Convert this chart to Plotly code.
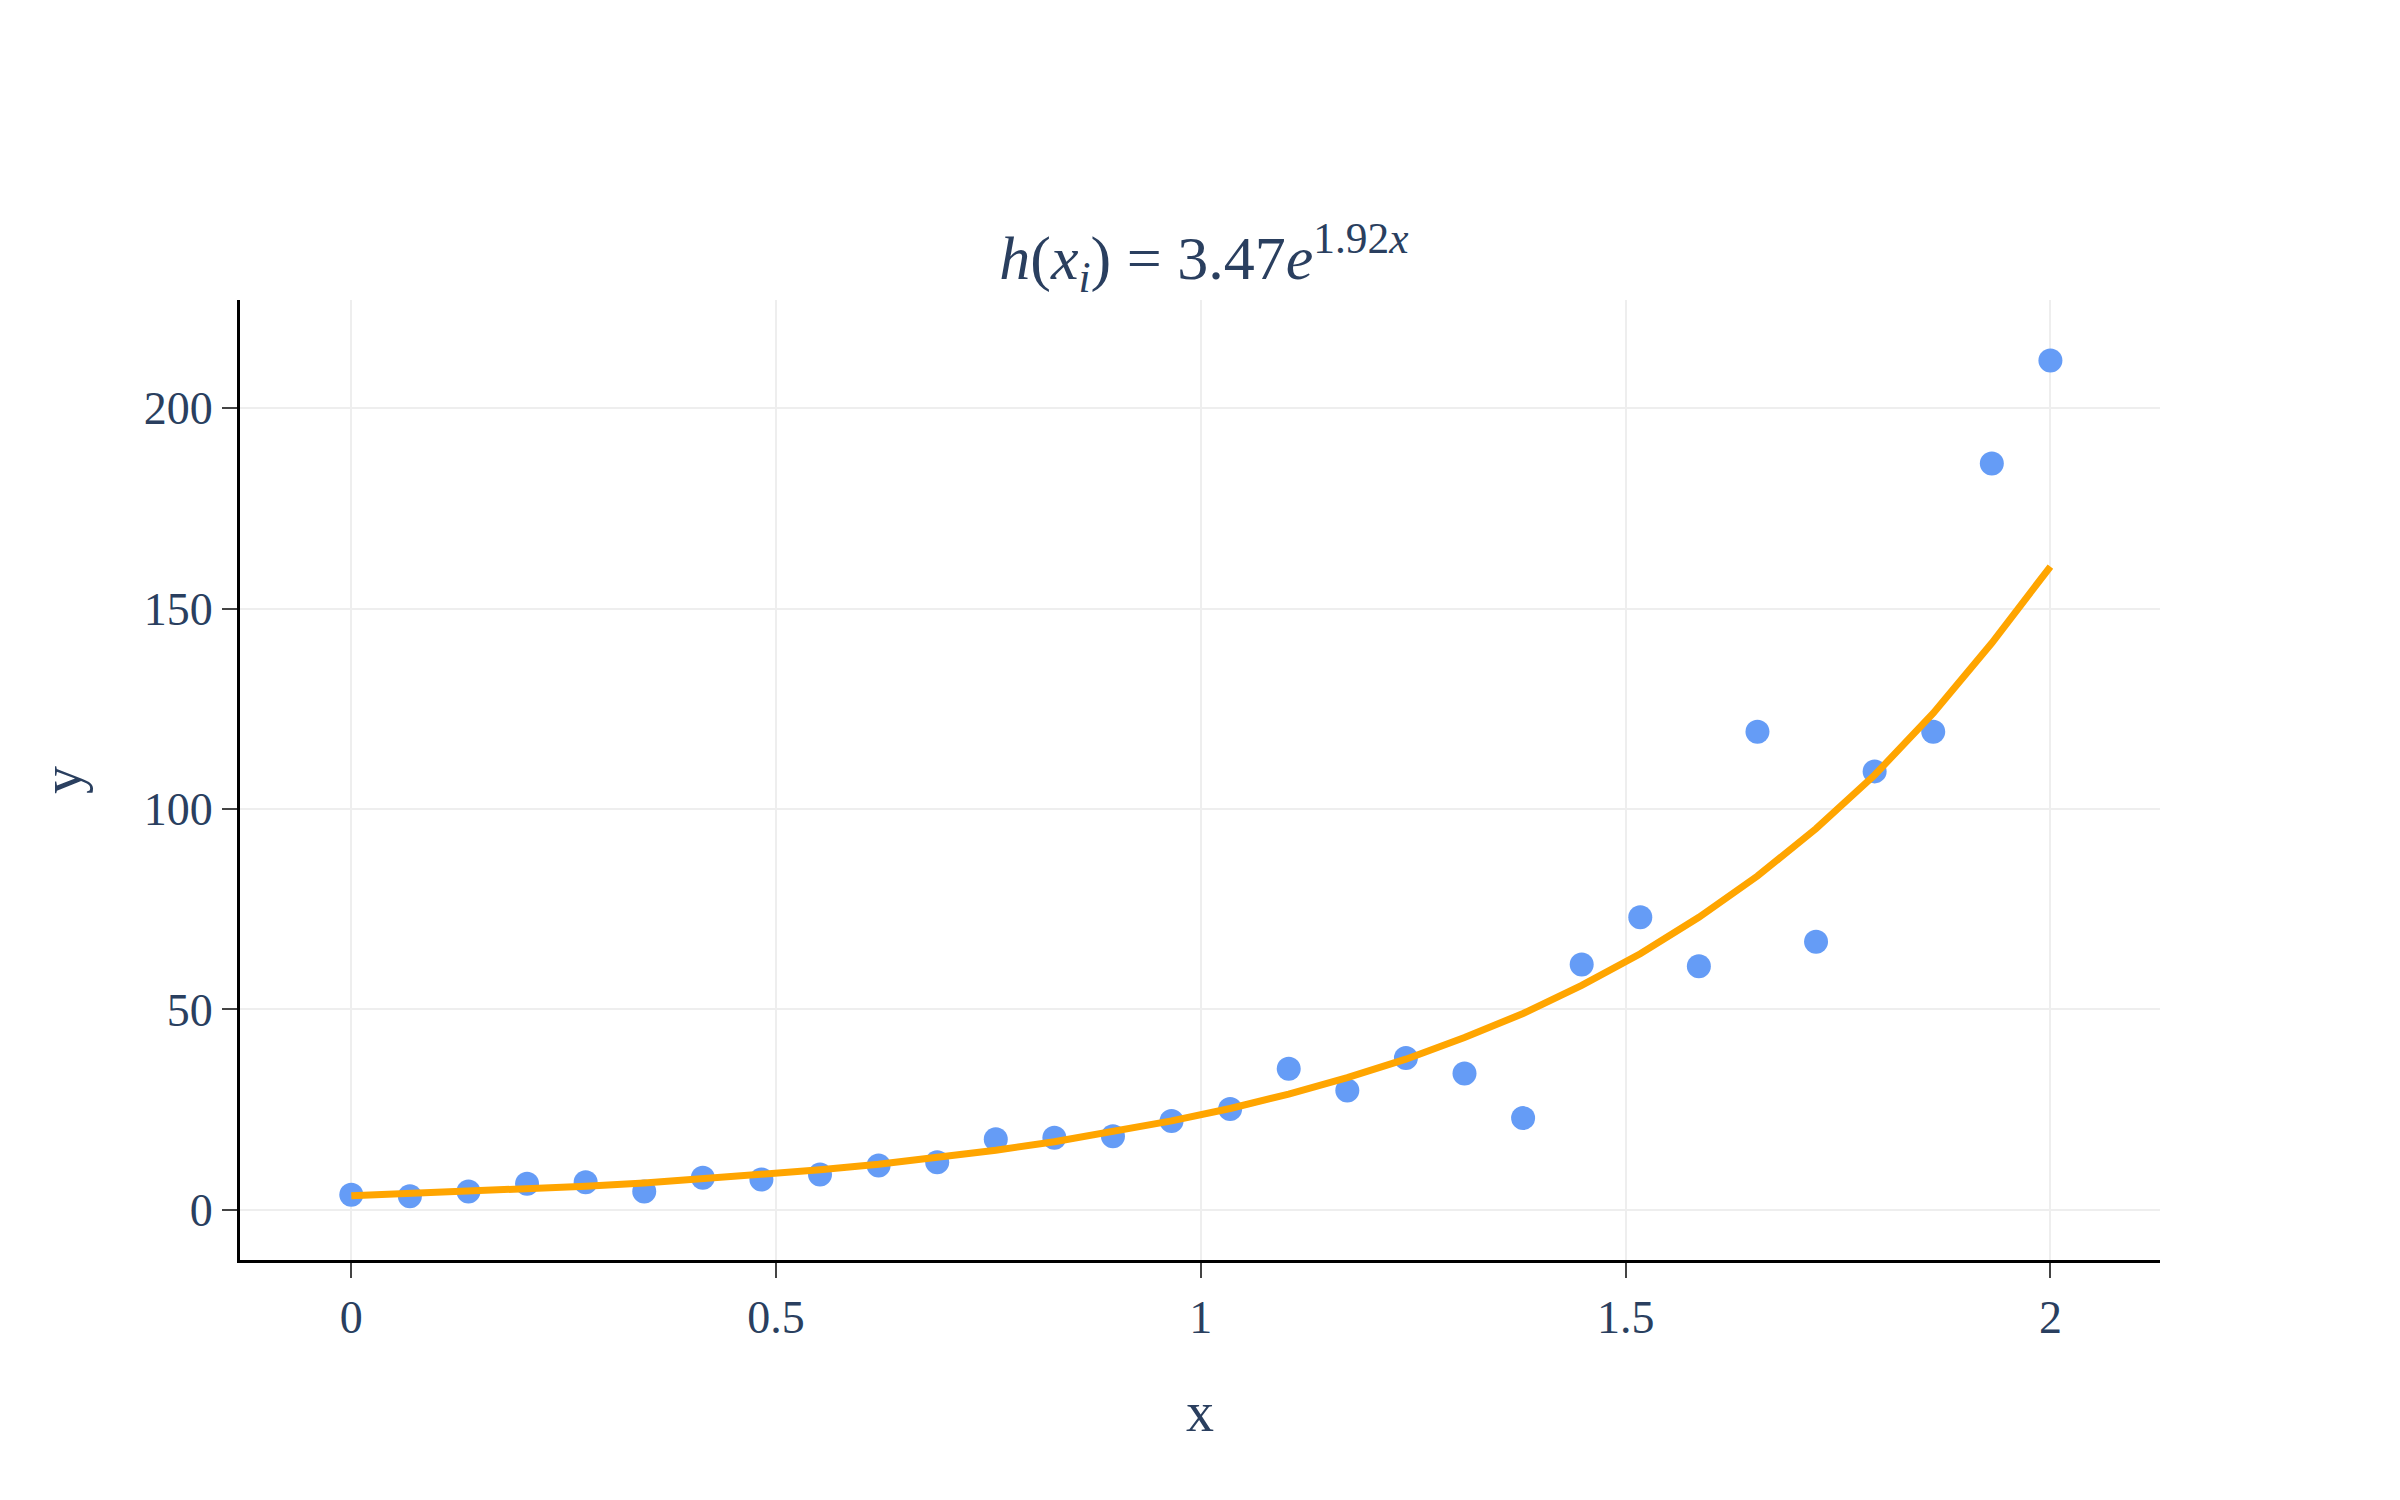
import plotly.graph_objects as go

# sample points
x_vals = [i * 2 / 29 for i in range(30)]
y_obs = [3.8, 3.4, 4.6, 6.5, 6.9, 4.6, 8.0, 7.6, 8.8, 11.1,
         11.9, 17.6, 18.0, 18.4, 22.2, 25.2, 35.2, 29.8, 37.9, 34.0,
         22.9, 61.2, 73.0, 60.8, 119.3, 66.9, 109.4, 119.3, 186.2, 211.9]
# fitted curve values
y_fit = [3.5, 4.0, 4.5, 5.2, 5.9, 6.7, 7.7, 8.8, 10.0, 11.4,
         13.0, 14.9, 17.0, 19.4, 22.2, 25.3, 28.9, 33.0, 37.6, 43.0,
         49.0, 56.0, 63.9, 73.0, 83.3, 95.1, 108.5, 123.9, 141.4, 160.5]

x_ticks = [0, 0.5, 1, 1.5, 2]
x_tick_text = ["0", "0.5", "1", "1.5", "2"]
y_ticks = [0, 50, 100, 150, 200]

title_text = "<i>h</i>(<i>x<sub>i</sub></i>) = 3.47<i>e</i><sup>1.92<i>x</i></sup>"

FONT = "Liberation Serif"
FONT_COLOR = "#2a3f5f"

fig = go.Figure()
fig.add_trace(go.Scatter(
    x=x_vals, y=y_obs, mode="markers",
    marker=dict(color="#659CF6", size=24),
    showlegend=False,
))
fig.add_trace(go.Scatter(
    x=x_vals, y=y_fit, mode="lines",
    line=dict(color="#FFA500", width=7),
    showlegend=False,
))

axis_common = dict(
    showline=True, linecolor="black", linewidth=3,
    ticks="outside", ticklen=15, tickwidth=2, tickcolor="#444",
    showgrid=True, gridcolor="#EEEEEE", gridwidth=2,
    zeroline=False,
    tickfont=dict(family=FONT, size=46, color=FONT_COLOR),
)

# page body adds an 8px offset, margins compensate for it
fig.update_layout(
    width=2400, height=1500,
    margin=dict(l=232, r=248, t=292, b=248),
    paper_bgcolor="white", plot_bgcolor="white",
    font=dict(family=FONT, color=FONT_COLOR),
    title=dict(text=title_text, x=0.4983, xanchor="center",
               yref="container", y=1 - 249 / 1500, yanchor="middle",
               font=dict(family=FONT, size=62, color=FONT_COLOR)),
    xaxis=dict(axis_common, range=[-0.131, 2.129],
               tickvals=x_ticks, ticktext=x_tick_text,
               title=dict(text="x", font=dict(family=FONT, size=56, color=FONT_COLOR), standoff=50)),
    yaxis=dict(axis_common, range=[-12.5, 227],
               tickvals=y_ticks,
               title=dict(text="y", font=dict(family=FONT, size=56, color=FONT_COLOR), standoff=45)),
)

fig.write_html("out.html")
